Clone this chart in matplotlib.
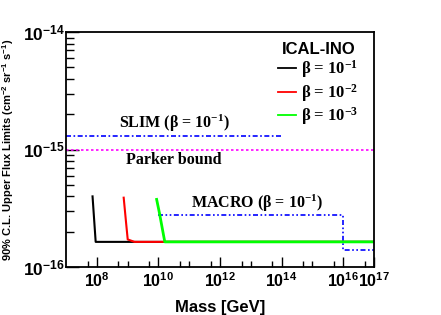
import numpy as np
import matplotlib
matplotlib.use("Agg")
import matplotlib.pyplot as plt
from matplotlib.ticker import FixedLocator, NullFormatter

plt.rcParams['mathtext.fontset'] = 'custom'
plt.rcParams['mathtext.rm'] = 'Liberation Serif:bold'
plt.rcParams['mathtext.sf'] = 'Liberation Sans:bold'
plt.rcParams['mathtext.it'] = 'Liberation Serif:bold'
plt.rcParams['mathtext.bf'] = 'Liberation Serif:bold'

# ICAL-INO limits
mass_b1 = [7.2e7, 9.1e7, 1e17]
flux_b1 = [4.0e-16, 1.64e-16, 1.64e-16]
mass_b2 = [7.4e8, 8.9e8, 1.0e9, 1.66e9, 1e17]
flux_b2 = [3.9e-16, 2.35e-16, 1.72e-16, 1.64e-16, 1.64e-16]
mass_b3 = [8.7e9, 1.07e10, 1.6e10, 1e17]
flux_b3 = [3.77e-16, 2.9e-16, 1.64e-16, 1.64e-16]

# other experiments
slim_mass = [1e7, 1e14]
slim_flux = [1.3e-15, 1.3e-15]
parker_mass = [1e7, 1e17]
parker_flux = [1e-15, 1e-15]
macro_mass = [1e10, 1e16, 1e16, 1e17]
macro_flux = [2.8e-16, 2.8e-16, 1.4e-16, 1.4e-16]

xtick_vals = [1e8, 1e10, 1e12, 1e14, 1e16, 1e17]
xtick_labels = [r'$\mathsf{10^{8}}$', r'$\mathsf{10^{10}}$', r'$\mathsf{10^{12}}$',
                r'$\mathsf{10^{14}}$', r'$\mathsf{10^{16}}$', r'$\mathsf{10^{17}}$']
ytick_vals = [1e-16, 1e-15, 1e-14]
ytick_labels = [r'$\mathsf{10^{-16}}$', r'$\mathsf{10^{-15}}$', r'$\mathsf{10^{-14}}$']

fig = plt.figure(figsize=(4.41, 3.15), dpi=100)
ax = fig.add_axes([0.150, 0.152, 0.698, 0.746])
ax.set_xscale('log')
ax.set_yscale('log')
ax.set_xlim(1e7, 1e17)
ax.set_ylim(1e-16, 1e-14)

ax.plot(parker_mass, parker_flux, color='#ff00ff', lw=1.2, dashes=[1.5, 1.5])
ax.plot(slim_mass, slim_flux, color='#0000ff', lw=1.2, dashes=[3, 1.5, 1, 1.5])
ax.plot(macro_mass, macro_flux, color='#0000ff', lw=1.2,
        dashes=[3, 1.5, 1, 1.5, 1, 1.5])

ax.plot(mass_b1, flux_b1, color='black', lw=1.5, label=r'β = $10^{-1}$')
ax.plot(mass_b2, flux_b2, color='#ff0000', lw=1.5, label=r'β = $10^{-2}$')
ax.plot(mass_b3, flux_b3, color='#00ff00', lw=2.0, label=r'β = $10^{-3}$')

serif = dict(family='Liberation Serif', weight='bold', size=11.5)
ax.text(10**10.53, 1.36e-15, r'SLIM (β = $10^{-1}$)', ha='center', va='bottom', **serif)
ax.text(10**10.5, 8.1e-16, 'Parker bound', ha='center', va='center', **serif)
ax.text(10**13.21, 3.5e-16, r'MACRO (β = $10^{-1}$)', ha='center', va='center', **serif)

leg = ax.legend(loc='upper right', bbox_to_anchor=(0.95, 0.96), frameon=False,
                title='ICAL-INO', handlelength=1.1, handletextpad=0.3,
                labelspacing=0.1, borderpad=0, borderaxespad=0,
                prop=dict(family='Liberation Serif', weight='bold', size=12))
leg.get_title().set_fontfamily('Liberation Sans')
leg.get_title().set_fontweight('bold')
leg.get_title().set_fontsize(12)
for h in leg.get_lines():
    h.set_linewidth(1.3)

ax.xaxis.set_major_locator(FixedLocator(xtick_vals))
ax.set_xticklabels(xtick_labels, fontsize=11.5)
minor_x = [10.0**k for k in range(9, 17, 2)] + [5 * 10.0**k for k in range(7, 17)]
ax.xaxis.set_minor_locator(FixedLocator(minor_x))
ax.xaxis.set_minor_formatter(NullFormatter())

ax.yaxis.set_major_locator(FixedLocator(ytick_vals))
ax.set_yticklabels(ytick_labels, fontsize=12.5)
minor_y = [m * 10.0**k for k in (-16, -15) for m in range(2, 10)]
ax.yaxis.set_minor_locator(FixedLocator(minor_y))
ax.yaxis.set_minor_formatter(NullFormatter())

ax.tick_params(axis='both', which='both', direction='in', top=False, right=False)
ax.tick_params(axis='x', which='major', length=7, width=1, pad=3)
ax.tick_params(axis='x', which='minor', length=4, width=1)
ax.tick_params(axis='y', which='major', length=9, width=1, pad=1)
ax.tick_params(axis='y', which='minor', length=6, width=1)
for sp in ax.spines.values():
    sp.set_linewidth(1.3)

ax.set_xlabel('Mass [GeV]', family='Liberation Sans', weight='bold', fontsize=12, labelpad=7)
ax.set_ylabel(r'90% C.L. Upper Flux Limits (cm$\mathsf{^{-2}}$ sr$\mathsf{^{-1}}$ s$\mathsf{^{-1}}$)',
              family='Liberation Sans', weight='bold', fontsize=8.0, labelpad=5)

fig.savefig('out.png', dpi=100)
